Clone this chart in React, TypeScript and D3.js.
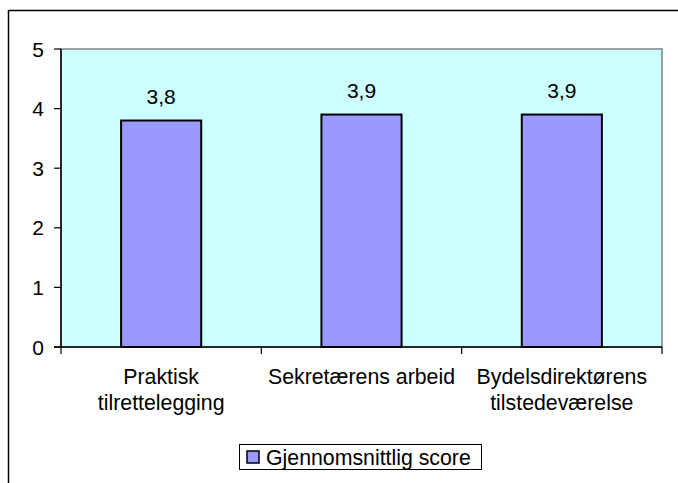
import React from "react";
import * as d3 from "d3";

const categories: string[] = ["Praktisk tilrettelegging", "Sekretærens arbeid", "Bydelsdirektørens tilstedeværelse"];
const categoryLines: string[][] = [["Praktisk", "tilrettelegging"], ["Sekretærens arbeid"], ["Bydelsdirektørens", "tilstedeværelse"]];
const values: number[] = [3.8, 3.9, 3.9];
const valueLabels: string[] = ["3,8", "3,9", "3,9"];
const yTicks: number[] = [0, 1, 2, 3, 4, 5];
const seriesName = "Gjennomsnittlig score";

const W = 678;
const H = 483;
const plot = { left: 61, right: 662, top: 49, bottom: 347 };
const FONT = "Arial, 'Liberation Sans', sans-serif";

export default function App() {
  const x = d3.scaleBand<string>().domain(categories).range([plot.left, plot.right]).padding(0);
  const y = d3.scaleLinear().domain([0, 5]).range([plot.bottom, plot.top]);
  const bw = x.bandwidth() * 0.4;
  const boundaries = [...categories.map((c) => x(c) as number), plot.right];

  return (
    <svg width={W} height={H} style={{ position: "absolute", left: 0, top: 0, display: "block", background: "#fff" }} fontFamily={FONT}>
      {/* chart frame */}
      <rect x={8.5} y={10.5} width={W} height={H} fill="#fff" stroke="#000" strokeWidth={1.5} />
      {/* plot area */}
      <rect x={plot.left} y={plot.top} width={plot.right - plot.left} height={plot.bottom - plot.top} fill="#CCFFFF" stroke="#808080" strokeWidth={1.5} />
      {/* bars */}
      {categories.map((c, i) => (
        <rect key={c} x={(x(c) as number) + x.bandwidth() * 0.3} y={y(values[i])} width={bw} height={y(0) - y(values[i])} fill="#9999FF" stroke="#000" strokeWidth={2} />
      ))}
      {/* value labels */}
      {categories.map((c, i) => (
        <text key={c} x={(x(c) as number) + x.bandwidth() / 2} y={y(values[i]) - 17} textAnchor="middle" fontSize={21} fill="#000">
          {valueLabels[i]}
        </text>
      ))}
      {/* y axis */}
      <line x1={plot.left} x2={plot.left} y1={plot.top} y2={plot.bottom} stroke="#000" strokeWidth={1.5} />
      {yTicks.map((t) => (
        <g key={t}>
          <line x1={plot.left - 7} x2={plot.left} y1={y(t)} y2={y(t)} stroke="#000" strokeWidth={1.2} />
          <text x={44} y={y(t)} dy="0.36em" textAnchor="end" fontSize={21} fill="#000">
            {t}
          </text>
        </g>
      ))}
      {/* x axis */}
      <line x1={plot.left - 7} x2={plot.right} y1={plot.bottom} y2={plot.bottom} stroke="#000" strokeWidth={1.5} />
      {boundaries.map((b, i) => (
        <line key={i} x1={b} x2={b} y1={plot.bottom} y2={plot.bottom + 7} stroke="#000" strokeWidth={1.2} />
      ))}
      {categories.map((c, i) => (
        <text key={c} x={(x(c) as number) + x.bandwidth() / 2} y={384} textAnchor="middle" fontSize={21.3} fill="#000">
          {categoryLines[i].map((l, j) => (
            <tspan key={j} x={(x(c) as number) + x.bandwidth() / 2} dy={j === 0 ? 0 : 25.5}>
              {l}
            </tspan>
          ))}
        </text>
      ))}
      {/* legend */}
      <rect x={239.5} y={444.5} width={242} height={25} fill="#fff" stroke="#000" strokeWidth={1} />
      <rect x={247} y={451} width={12} height={12} fill="#9999FF" stroke="#000" strokeWidth={1.5} />
      <text x={266} y={464.5} fontSize={21.3} fill="#000">
        {seriesName}
      </text>
    </svg>
  );
}
